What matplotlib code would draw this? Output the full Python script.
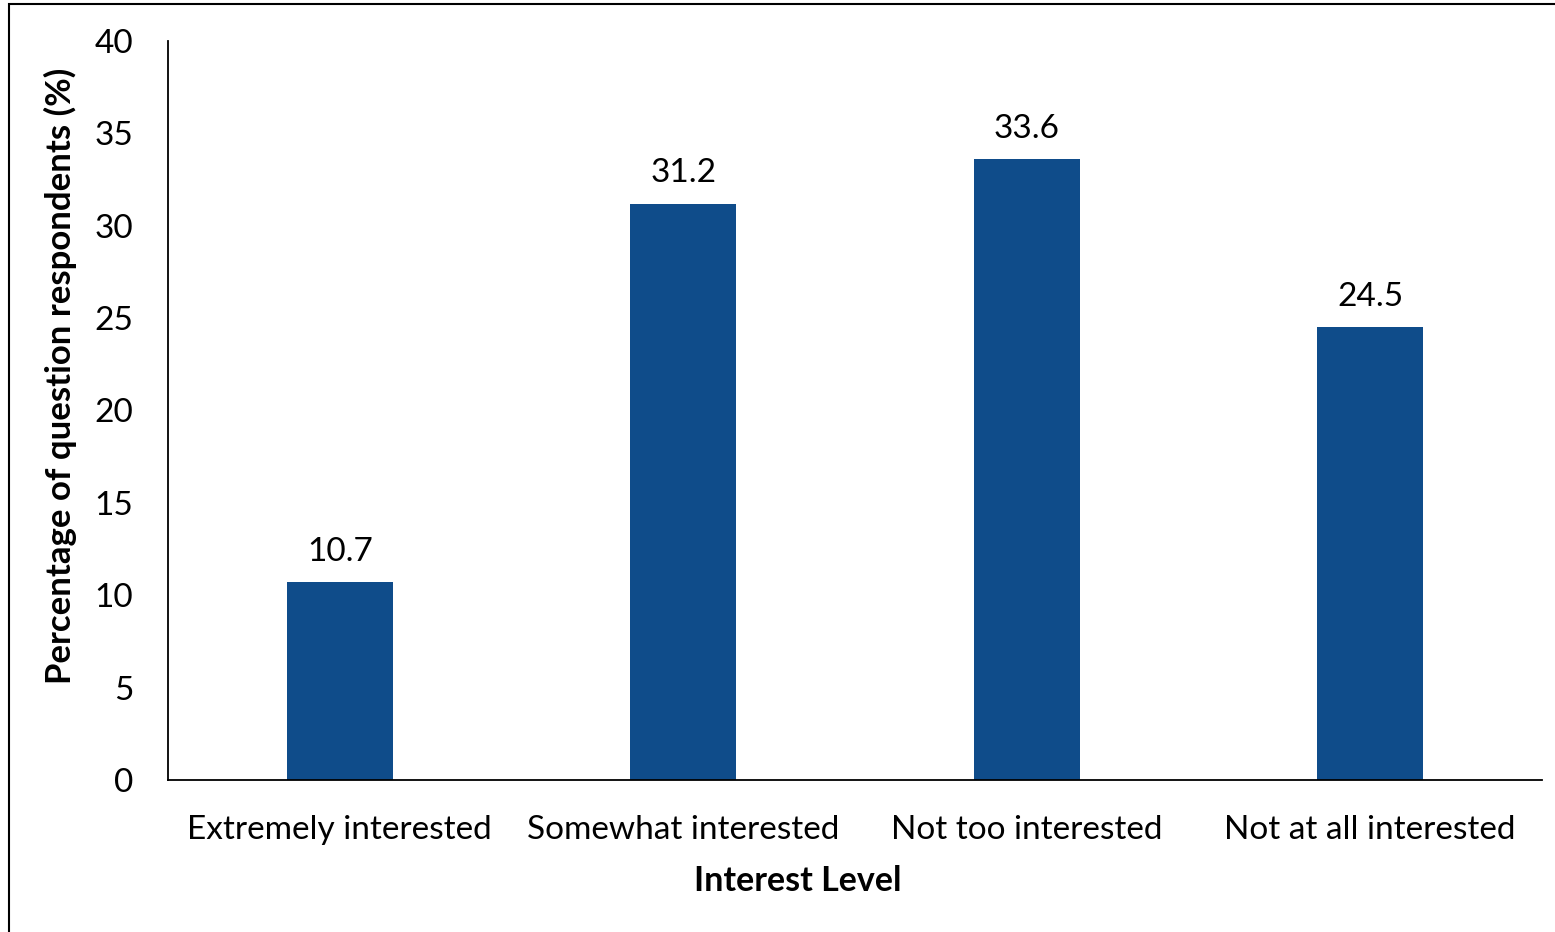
import matplotlib.pyplot as plt
from matplotlib.patches import Rectangle

categories = ['Extremely interested', 'Somewhat interested', 'Not too interested', 'Not at all interested']
values = [10.7, 31.2, 33.6, 24.5]
yticks = [0, 5, 10, 15, 20, 25, 30, 35, 40]

plt.rcParams['font.family'] = ['Lato', 'DejaVu Sans']

fig = plt.figure(figsize=(15.55, 9.32), dpi=100)
ax = fig.add_axes([168 / 1555, 1 - 780 / 932, 1374 / 1555, 739 / 932])

# outer chart border (cut off on the right and bottom)
fig.patches.append(Rectangle((9 / 1555, -0.1), 1.2, 1.1 - 4 / 932, transform=fig.transFigure,
                             fill=False, edgecolor='black', linewidth=1.5))

x = range(len(categories))
bars = ax.bar(x, values, width=0.31, color='#0F4C8A')
for b, v in zip(bars, values):
    ax.annotate(f'{v}', (b.get_x() + b.get_width() / 2, v), xytext=(0, 11),
                textcoords='offset points', ha='center', va='bottom', fontsize=24)

ax.set_xlim(-0.5, len(categories) - 0.5)
ax.set_ylim(0, 40)
ax.set_yticks(yticks)
ax.set_xticks(list(x))
ax.set_xticklabels(categories)
ax.tick_params(axis='both', length=0, labelsize=24)
ax.tick_params(axis='y', pad=25)
ax.tick_params(axis='x', pad=25)
for s in ['top', 'right']:
    ax.spines[s].set_visible(False)
ax.spines['left'].set_linewidth(1.3)
ax.spines['bottom'].set_linewidth(1.3)

ax.set_xlabel('Interest Level', fontsize=24.5, fontweight='bold')
ax.set_ylabel('Percentage of question respondents (%)', fontsize=25, fontweight='bold')
ax.xaxis.set_label_coords((798 - 168) / 1374, -(881 - 780) / 739)
ax.yaxis.set_label_coords(-(168 - 60) / 1374, (780 - 376) / 739)
ax.xaxis.label.set_va('center')
ax.yaxis.label.set_va('center')

plt.savefig('out.png', dpi=100)
